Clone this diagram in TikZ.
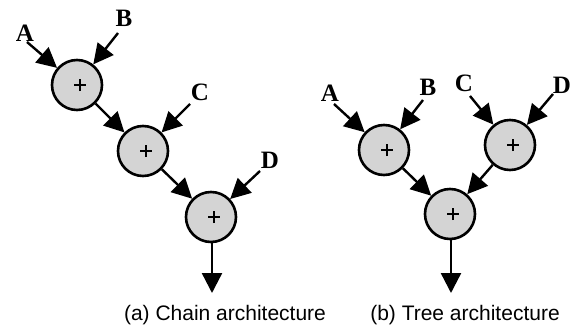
\documentclass[tikz,border=0pt]{standalone}
\usepackage{fontspec}
\setmainfont{Liberation Serif}
\setsansfont{Liberation Sans}
\usetikzlibrary{arrows.meta}
\begin{document}
\begin{tikzpicture}[x=1pt,y=-1pt,
  adder/.style={circle, draw, line width=2.6pt, fill=black!17, minimum size=50pt, inner sep=0pt,
    path picture={\draw[line width=1.8pt] ([xshift=-3pt]path picture bounding box.center) -- ++(12pt,0pt)
      ([xshift=3pt,yshift=-6pt]path picture bounding box.center) -- ++(0pt,12pt);}},
  inlab/.style={font=\bfseries\fontsize{25}{25}\selectfont, inner sep=0pt},
  arr/.style={line width=2.4pt, -{Triangle[width=20pt,length=20pt]}},
  captext/.style={font=\sffamily\fontsize{21}{21}\selectfont, inner sep=0pt}
]
\useasboundingbox[fill=white] (0,0) rectangle (571,332);

% chain architecture
\node[adder] (c1) at (77,85) {};
\node[adder] (c2) at (143,151) {};
\node[adder] (c3) at (211,217) {};
\node[inlab] (la) at (25,33) {A};
\node[inlab] (lb) at (124,18) {B};
\node[inlab] (lc) at (200,92) {C};
\node[inlab] (ld) at (270,160) {D};
\coordinate (sa) at (27,42);
\coordinate (sb) at (118,33);
\coordinate (sc) at (190,104);
\coordinate (sd) at (260,171);
\coordinate (o1) at (212,293);
\draw[arr] (sa) -- (c1);
\draw[arr] (sb) -- (c1);
\draw[arr] (c1) -- (c2);
\draw[arr] (sc) -- (c2);
\draw[arr] (c2) -- (c3);
\draw[arr] (sd) -- (c3);
\draw[arr] (c3.south -| o1) -- (o1);
\node[captext] (capa) at (225,315) {(a) Chain architecture};

% tree architecture
\node[adder] (t1) at (384,150) {};
\node[adder] (t2) at (510,145) {};
\node[adder] (t3) at (450,214) {};
\node[inlab] (ta) at (330,93) {A};
\node[inlab] (tb) at (428,87) {B};
\node[inlab] (tc) at (464,83) {C};
\node[inlab] (td) at (562,85) {D};
\coordinate (ua) at (334,104);
\coordinate (ub) at (423,100);
\coordinate (uc) at (470,96);
\coordinate (ud) at (553,94);
\coordinate (o2) at (451,293);
\draw[arr] (ua) -- (t1);
\draw[arr] (ub) -- (t1);
\draw[arr] (uc) -- (t2);
\draw[arr] (ud) -- (t2);
\draw[arr] (t1) -- (t3);
\draw[arr] (t2) -- (t3);
\draw[arr] (t3.south -| o2) -- (o2);
\node[captext] (capb) at (465,315) {(b) Tree architecture};
\end{tikzpicture}
\end{document}
